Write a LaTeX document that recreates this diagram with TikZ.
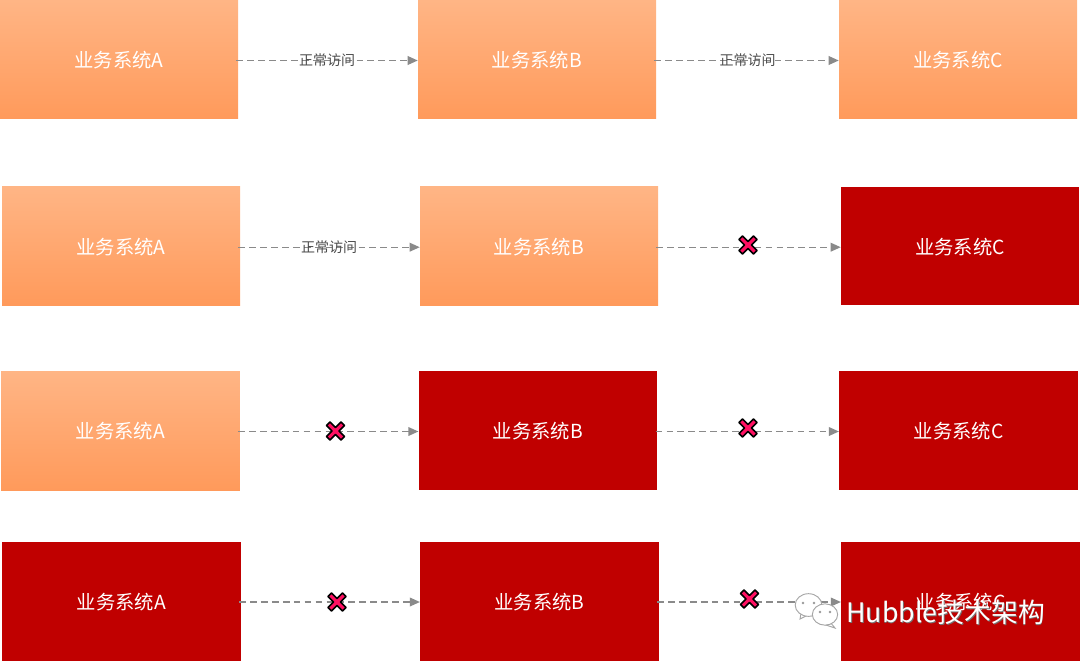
\documentclass[tikz,border=0pt]{standalone}
\usepackage{fontspec}
\setmainfont{Noto Sans CJK SC}
\usepackage{xcolor}
\usetikzlibrary{
	arrows.meta,
	shapes.geometric
}
\definecolor{boxtop}{HTML}{FFB585}
\definecolor{boxbottom}{HTML}{FF9A5B}
\definecolor{downred}{HTML}{C00000}
\definecolor{linegray}{HTML}{8A8A8A}
\definecolor{crosspink}{HTML}{FF1062}
\tikzset{
	okbox/.style={minimum width=178.5pt, minimum height=88.75pt, inner sep=0pt, text=white, text height=14pt, text depth=1.5pt, font=\fontsize{14.5}{18}\selectfont, top color=boxtop, bottom color=boxbottom},
	downbox/.style={minimum width=178.5pt, minimum height=88.75pt, inner sep=0pt, text=white, text height=14pt, text depth=1.5pt, font=\fontsize{14.5}{18}\selectfont, fill=downred},
	widebox/.style={minimum width=179pt, minimum height=89.25pt},
	conn/.style={draw=linegray, line width=1pt, shorten <=-1.5pt, dash pattern=on 5pt off 3.2pt, -{Triangle[length=7.5pt,width=6.5pt]}},
	connlabel/.style={inner sep=0pt, text=black!70, font=\fontsize{10.5}{12}\selectfont},
	crossmark/.pic={
		\draw[fill=crosspink, line width=1.2pt, line join=round] (0,-3.5)--(5.5,-9)--(9,-5.5)--(3.5,0)--(9,5.5)--(5.5,9)--(0,3.5)--(-5.5,9)--(-9,5.5)--(-3.5,0)--(-9,-5.5)--(-5.5,-9)--cycle;
	},
	chatline/.style={draw=black!35, fill=white, line width=0.7pt},
	chatbubble/.style={chatline, ellipse, inner sep=0pt},
	chateye/.style={fill=black!40}
}
\begin{document}
\begin{tikzpicture}[x=0.75pt, y=-0.75pt]
		\useasboundingbox (0,0) rectangle (1080,661);
		\node[okbox] (A1) at (119,59.5) {业务系统A};
		\node[okbox] (B1) at (537,59.5) {业务系统B};
		\node[okbox] (C1) at (958,59.5) {业务系统C};
		\node[okbox] (A2) at (121,246) {业务系统A};
		\node[okbox] (B2) at (539,246) {业务系统B};
		\node[downbox] (C2) at (960,246) {业务系统C};
		\node[okbox, widebox] (A3) at (120.5,430.5) {业务系统A};
		\node[downbox, widebox] (B3) at (538,430.5) {业务系统B};
		\node[downbox, widebox] (C3) at (958.5,430.5) {业务系统C};
		\node[downbox, widebox] (A4) at (121.5,601) {业务系统A};
		\node[downbox, widebox] (B4) at (539.5,601) {业务系统B};
		\node[downbox, widebox] (C4) at (960.5,601) {业务系统C};
		\draw[conn] ([yshift=-0.75pt]A1.east)--([yshift=-0.75pt]B1.west);
		\draw[conn] ([yshift=-0.75pt]B1.east)--([yshift=-0.75pt]C1.west);
		\draw[conn] ([yshift=-0.9pt]A2.east)--([yshift=-0.9pt]B2.west);
		\draw[conn] ([yshift=-0.9pt]B2.east)--([yshift=-0.9pt]C2.west);
		\draw[conn] ([yshift=-0.75pt]A3.east)--([yshift=-0.75pt]B3.west);
		\draw[conn] ([yshift=-0.75pt]B3.east)--([yshift=-0.75pt]C3.west);
		\draw[conn] ([yshift=-0.75pt]A4.east)--([yshift=-0.75pt]B4.west);
		\draw[conn] ([yshift=-0.75pt]B4.east)--([yshift=-0.75pt]C4.west);
		\node[connlabel] (L1) at (327,60.5) {正常访问};
		\node[connlabel] (L2) at (747.5,60.5) {正常访问};
		\node[connlabel] (L3) at (329,247) {正常访问};
		\pic at (748,245) {crossmark};
		\pic at (335.5,431) {crossmark};
		\pic at (748,428) {crossmark};
		\pic at (337,602) {crossmark};
		\pic at (749.5,599) {crossmark};
		\draw[chatline] (801,613)--(800,619)--(808,615)--cycle;
		\node[chatbubble, minimum width=20pt, minimum height=17pt] (W1) at (808.5,605) {};
		\fill[chateye] (803,603) circle (1.3);
		\fill[chateye] (814,603) circle (1.3);
		\draw[chatline] (830,622)--(835,628)--(826,625)--cycle;
		\node[chatbubble, minimum width=19pt, minimum height=16pt] (W2) at (825,614.5) {};
		\fill[chateye] (820,612) circle (1.3);
		\fill[chateye] (830,612) circle (1.3);
		\node[text=black!55, font=\fontsize{20.1}{22}\selectfont, anchor=west, inner sep=0pt] (H0) at (846.8,613.3) {Hubble技术架构};
		\node[text=white, font=\fontsize{20.1}{22}\selectfont, anchor=west, inner sep=0pt] (H1) at (846,612.5) {Hubble技术架构};
	\end{tikzpicture}
\end{document}
